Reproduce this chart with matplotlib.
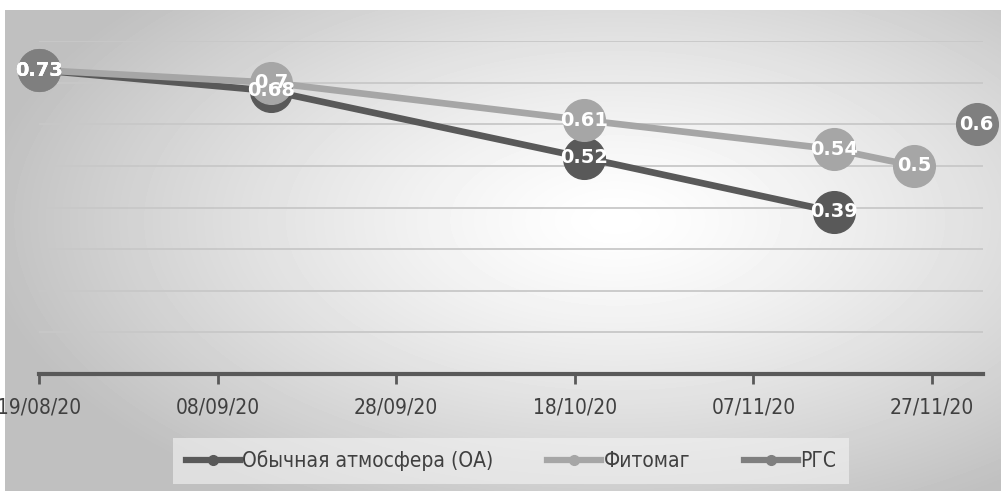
import numpy as np
import pandas as pd
import matplotlib
matplotlib.use("Agg")
import matplotlib.pyplot as plt

plt.rcParams['font.family'] = ['DejaVu Sans']
plt.rcParams['font.stretch'] = 'condensed'

oa_dates = ["2020-08-19", "2020-09-14", "2020-10-19", "2020-11-16"]
oa_vals = [0.73, 0.68, 0.52, 0.39]
fm_dates = ["2020-08-19", "2020-09-14", "2020-10-19", "2020-11-16", "2020-11-25"]
fm_vals = [0.73, 0.70, 0.61, 0.54, 0.50]
rgs_dates = ["2020-08-19", "2020-12-02"]
rgs_vals = [0.73, 0.60]
tick_dates = ["2020-08-19", "2020-09-08", "2020-09-28", "2020-10-18", "2020-11-07", "2020-11-27"]
tick_labels = ["19/08/20", "08/09/20", "28/09/20", "18/10/20", "07/11/20", "27/11/20"]

series = [
    ("Обычная атмосфера (ОА)", oa_dates, oa_vals, "#595959", True),
    ("Фитомаг", fm_dates, fm_vals, "#a6a6a6", True),
    ("РГС", rgs_dates, rgs_vals, "#7f7f7f", False),
]

W, H = 1001, 491
fig = plt.figure(figsize=(W / 100, H / 100), dpi=100)

# radial gradient background
bg = fig.add_axes([5 / W, 0, 996 / W, 481 / H])
yy, xx = np.mgrid[0:481, 0:996]
cx, cy = 610, 210
r = np.sqrt(((xx - cx) / 640.0) ** 2 + ((yy - cy) / 330.0) ** 2)
r = np.clip(r, 0, 1)
shade = 1.0 - 0.25 * r ** 1.3
bg.imshow(shade, cmap="gray", vmin=0, vmax=1, aspect="auto", interpolation="bilinear")
bg.axis("off")

ax = fig.add_axes([39 / W, 1 - 374 / H, (983 - 39) / W, (374 - 41) / H])
ax.patch.set_alpha(0)

for name, d, v, c, line in series:
    x = pd.to_datetime(d)
    if line:
        ax.plot(x, v, color=c, lw=4.8, solid_capstyle="round", zorder=3, clip_on=False)
    ax.plot(x, v, ls="none", marker="o", ms=30, color=c, zorder=4, clip_on=False)
    for xi, vi in zip(x, v):
        ax.text(xi, vi, f"{vi:g}", color="white", fontsize=14, fontweight="bold",
                ha="center", va="center", zorder=5, fontstretch="normal")

start = pd.Timestamp("2020-08-19")
ax.set_xlim(start, start + pd.Timedelta(days=105.7))
ax.set_ylim(0, 0.8)
ax.set_yticks(np.arange(0.1, 0.81, 0.1))
ax.yaxis.grid(True, color="#c8c8c8", lw=1.3)
ax.set_axisbelow(True)
ax.tick_params(axis="y", left=False, labelleft=False)
ax.set_xticks(pd.to_datetime(tick_dates))
ax.set_xticklabels(tick_labels)
ax.tick_params(axis="x", colors="#595959", width=2, length=7, labelsize=15,
               labelcolor="#404040", pad=10)
for s in ["top", "right", "left"]:
    ax.spines[s].set_visible(False)
ax.spines["bottom"].set_color("#595959")
ax.spines["bottom"].set_linewidth(3)

handles = [plt.Line2D([], [], color=c, lw=4.5, marker="o", ms=7) for _, _, _, c, _ in series]
leg = fig.legend(handles, [s[0] for s in series], loc="center", bbox_to_anchor=(511 / W, 1 - 461 / H),
                 ncol=3, frameon=True, fontsize=15, handlelength=2.6, handletextpad=0.1,
                 columnspacing=2.6, borderpad=0.6, fancybox=False)
leg.get_frame().set_facecolor("#f4f4f4")
leg.get_frame().set_alpha(0.6)
leg.get_frame().set_edgecolor("none")
for t in leg.get_texts():
    t.set_color("#404040")

fig.savefig("out.png", dpi=100)
